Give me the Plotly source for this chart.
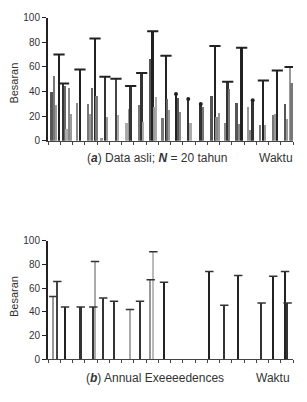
import plotly.graph_objects as go

# ---------------- data ----------------
# (a) original data: time (years) and magnitude
time_a = [0.30, 0.51, 0.65, 0.90, 1.27, 1.43, 1.53, 1.71, 1.88, 2.39, 2.61, 3.29, 3.43, 3.62, 3.84, 3.98,
          4.38, 4.65, 4.84, 5.55, 5.71, 6.42, 6.61, 6.75, 7.45, 7.65, 7.78, 8.33, 8.55, 8.68, 8.82, 9.36,
          9.63, 9.74, 9.88, 10.45, 10.64, 10.78, 11.45, 11.65, 12.47, 12.68, 13.36, 13.63, 13.77, 13.96,
          14.45, 14.67, 14.80, 15.40, 15.59, 15.81, 16.35, 16.55, 16.71, 17.31, 17.58, 17.71, 18.39,
          18.57, 18.72, 19.35, 19.53, 19.76, 19.89]
value_a = [40, 53, 29, 70, 46.5, 45, 10, 43, 22, 31, 58, 30, 22, 43, 83, 37,
           3, 52, 20, 50.5, 21, 15, 26, 44.6, 29, 55, 16, 67, 89, 28, 36, 19,
           69, 34, 25, 38, 35, 24, 34, 15, 30, 28, 36.5, 77, 20, 22.5,
           14.5, 48, 42, 31, 14, 75.5, 28, 9, 33, 13, 49, 13, 21,
           22, 57, 30, 18, 60, 47]
# annual maxima markers in (a): "T" caps and round dots
cap_time_a = [0.90, 1.27, 2.61, 3.84, 4.65, 5.55, 6.75, 7.65, 8.55, 9.63, 13.63, 14.67, 15.81,
              17.58, 18.72, 19.76]
cap_value_a = [70, 46.5, 58, 83, 52, 50.5, 44.6, 55, 89, 69, 77, 48, 75.5, 49, 57, 60]
dot_time_a = [10.45, 11.45, 12.47, 16.71]
dot_value_a = [38, 34, 30, 33]

# (b) annual exceedances
time_b = [0.43, 0.76, 1.39, 2.67, 3.70, 3.84, 4.51, 5.39, 6.69, 7.51, 8.38, 8.60, 9.47,
          13.17, 14.39, 15.53, 17.44, 18.39, 19.35, 19.56]
value_b = [53, 65.6, 44, 44, 44, 82.5, 51.6, 49, 42, 49, 67, 90.7, 65,
           74, 45.6, 70.7, 47.5, 70, 74, 47.5]

y_ticks = [0, 20, 40, 60, 80, 100]
x_ticks = list(range(0, 21))

# ---------------- styles ----------------
shades_a = ["#555", "#777", "#999", "#222", "#333", "#666", "#aaa", "#888", "#999", "#888", "#222",
            "#777", "#999", "#666", "#222", "#777", "#999", "#333", "#999", "#444", "#aaa", "#aaa",
            "#999", "#333", "#777", "#333", "#aaa", "#555", "#222", "#999", "#aaa", "#777",
            "#222", "#666", "#999", "#222", "#555", "#888", "#333", "#aaa", "#333", "#777", "#555",
            "#222", "#888", "#999", "#888", "#333", "#777", "#555", "#888", "#222", "#999", "#888",
            "#333", "#777", "#222", "#999", "#777", "#999", "#222", "#555", "#999", "#999", "#777"]
shades_b = ["#999", "#444", "#222", "#333", "#333", "#aaa", "#333", "#333", "#aaa", "#333", "#999",
            "#bbb", "#222", "#222", "#333", "#222", "#333", "#222", "#222", "#333"]

fig = go.Figure()

fig.add_trace(go.Bar(x=time_a, y=value_a, width=0.14, marker=dict(color=shades_a, line_width=0),
                     xaxis="x", yaxis="y", showlegend=False))
fig.add_trace(go.Scatter(x=cap_time_a, y=cap_value_a, mode="markers",
                         marker=dict(symbol="line-ew", size=8, line=dict(width=2, color="#222")),
                         xaxis="x", yaxis="y", showlegend=False))
fig.add_trace(go.Scatter(x=dot_time_a, y=dot_value_a, mode="markers",
                         marker=dict(symbol="circle", size=4, color="#222"),
                         xaxis="x", yaxis="y", showlegend=False))

fig.add_trace(go.Bar(x=time_b, y=value_b, width=0.13, marker=dict(color=shades_b, line_width=0),
                     xaxis="x2", yaxis="y2", showlegend=False))
fig.add_trace(go.Scatter(x=time_b, y=value_b, mode="markers",
                         marker=dict(symbol="line-ew", size=6, line=dict(width=1.5, color="#333")),
                         xaxis="x2", yaxis="y2", showlegend=False))

W, H = 307, 402
x0, x1 = 48, 293
top_a, bot_a = 12, 139
top_b, bot_b = 242, 364

tickfont = dict(family="Liberation Sans, Arial, sans-serif", size=10, color="#333")
xax = dict(range=[0, 20], domain=[x0 / W, x1 / W], tickvals=x_ticks, showticklabels=False,
           ticks="outside", ticklen=3, tickwidth=1, tickcolor="#444", showline=True,
           linecolor="#444", linewidth=1, showgrid=False, zeroline=False, fixedrange=True)
yax = dict(range=[0, 100], tickvals=y_ticks, ticks="outside", ticklen=4, tickwidth=1,
           tickcolor="#222", showline=True, linecolor="#222", linewidth=2, showgrid=False,
           zeroline=False, tickfont=tickfont, fixedrange=True)

fig.update_layout(
    width=W, height=H, margin=dict(l=0, r=0, t=0, b=0),
    paper_bgcolor="white", plot_bgcolor="white", bargap=0,
    xaxis=dict(xax, anchor="y"),
    yaxis=dict(yax, anchor="x", domain=[1 - bot_a / H, 1 - top_a / H]),
    xaxis2=dict(xax, anchor="y2"),
    yaxis2=dict(yax, anchor="x2", domain=[1 - bot_b / H, 1 - top_b / H]),
)

txt = dict(family="Liberation Sans, Arial, sans-serif", size=12, color="#333")
ann = [
    dict(text="Besaran", x=14 / W, y=1 - 80 / H, textangle=-90),
    dict(text="Besaran", x=14 / W, y=1 - 300 / H, textangle=-90),
    dict(text="(<i><b>a</b></i>) Data asli; <i><b>N</b></i> = 20 tahun", x=157 / W, y=1 - 157 / H),
    dict(text="Waktu", x=276 / W, y=1 - 157 / H),
    dict(text="(<i><b>b</b></i>) Annual Exeeeedences", x=155 / W, y=1 - 383 / H),
    dict(text="Waktu", x=273 / W, y=1 - 383 / H),
]
for a in ann:
    fig.add_annotation(xref="paper", yref="paper", showarrow=False, xanchor="center", yanchor="middle",
                       font=txt if a["text"] != "Besaran" else dict(txt, size=11), **a)

fig.write_html("out.html")
